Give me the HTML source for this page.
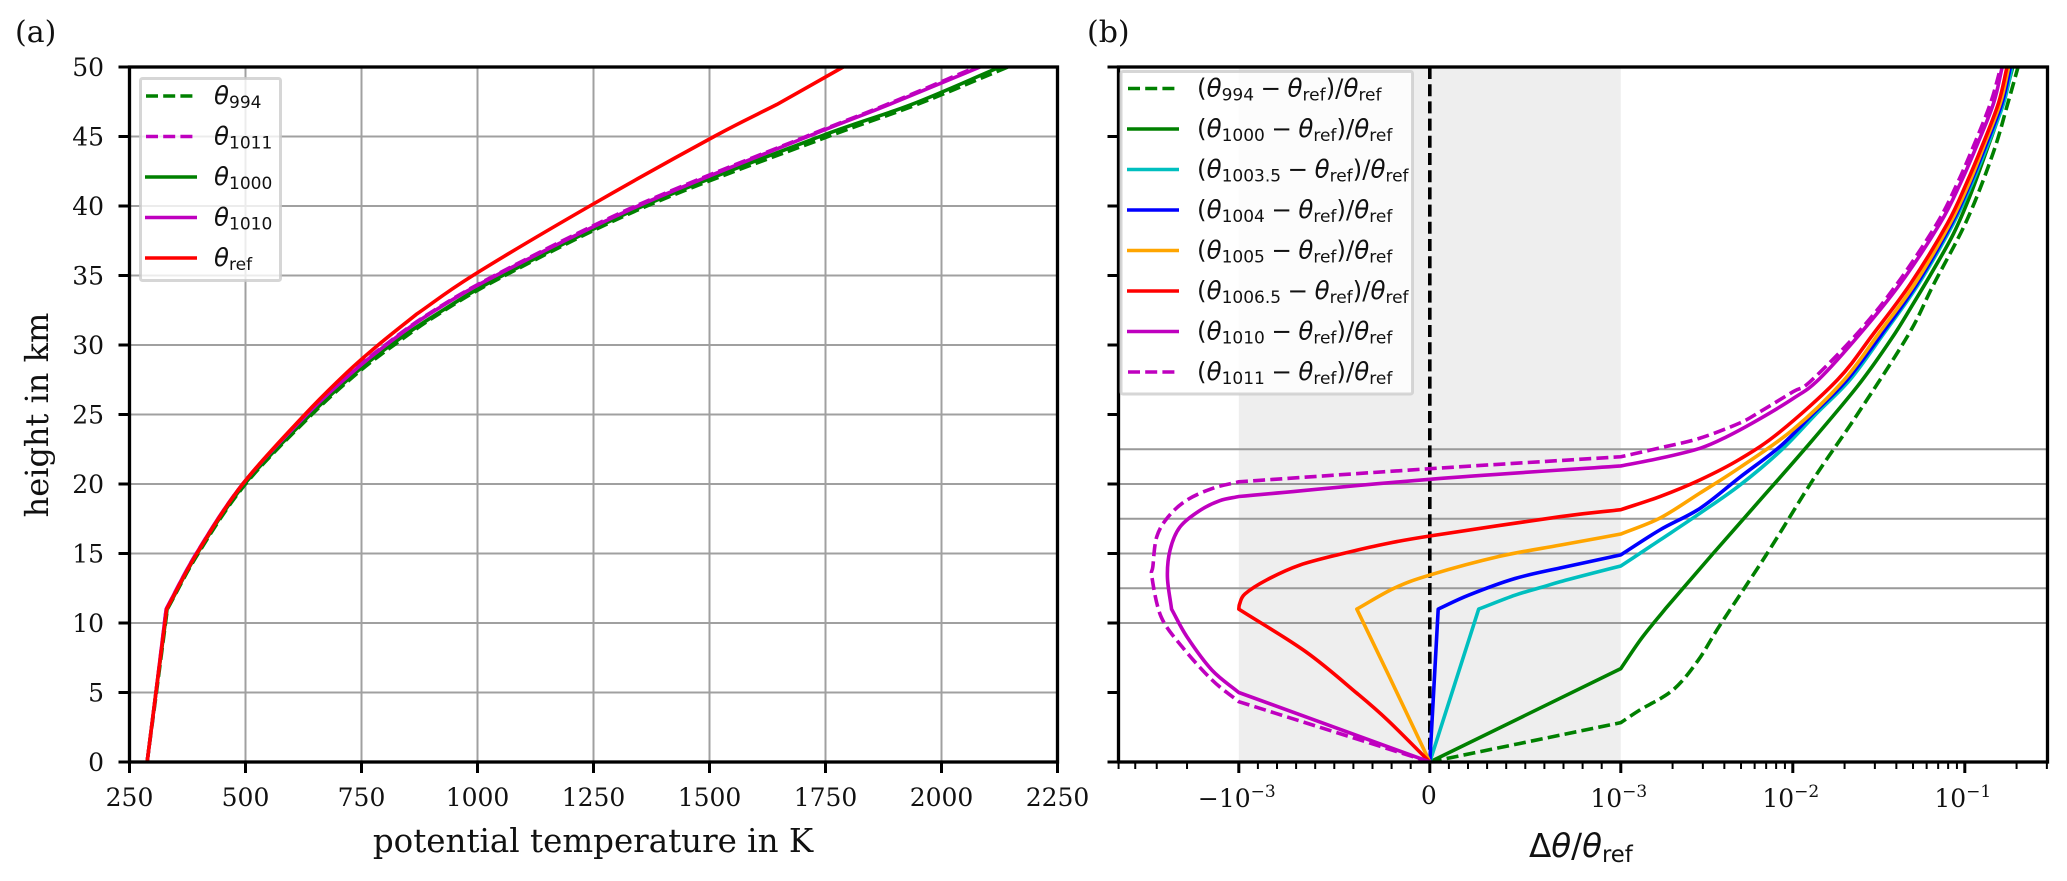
<!DOCTYPE html>
<html lang="en">
<head>
<meta charset="utf-8">
<title>Potential temperature profiles</title>
<style>
html,body{margin:0;padding:0;background:#fff;}
svg{display:block;}
.serif{font-family:"DejaVu Serif","Liberation Serif",serif;fill:#111;}
.math{font-family:"DejaVu Sans","Liberation Sans",sans-serif;fill:#111;}
.th{font-style:italic;}
</style>
</head>
<body>
<svg id="fig" xmlns="http://www.w3.org/2000/svg" width="2067" height="881" viewBox="0 0 2067 881">
  <defs>
    <clipPath id="clip-a"><rect x="129.5" y="67" width="928" height="695"/></clipPath>
    <clipPath id="clip-b"><rect x="1118.5" y="67" width="929" height="695"/></clipPath>
  </defs>
  <rect x="0" y="0" width="2067" height="881" fill="#fff"/>
  <text class="serif" x="15" y="42" font-size="30">(a)</text>
  <text class="serif" x="1087" y="42" font-size="30">(b)</text>

  <g id="axes-a"></g>
  <g id="axes-b"></g>

  <text class="serif" x="593" y="852" font-size="32.5" text-anchor="middle">potential temperature in K</text>
  <text class="serif" transform="translate(48,415) rotate(-90)" font-size="32" text-anchor="middle">height in km</text>
  <text class="math" x="1529" y="857" font-size="32.5">Δ<tspan class="th">θ</tspan>/<tspan class="th">θ</tspan><tspan font-size="22.7" dy="5">ref</tspan></text>

  <!-- legend a -->
  <g>
    <rect x="140.5" y="78.5" width="140" height="202" rx="2" fill="#fff" fill-opacity="0.8" stroke="#ccc" stroke-opacity="0.8" stroke-width="3"/>
    <line x1="146" x2="197" y1="96" y2="96" stroke="#008000" stroke-width="3.6" stroke-dasharray="12 5.2"/>
    <text class="math" x="214" y="104" font-size="24.5"><tspan class="th">θ</tspan><tspan font-size="17" dy="4">994</tspan></text>
    <line x1="146" x2="197" y1="136.5" y2="136.5" stroke="#bf00bf" stroke-width="3.6" stroke-dasharray="12 5.2"/>
    <text class="math" x="214" y="144.5" font-size="24.5"><tspan class="th">θ</tspan><tspan font-size="17" dy="4">1011</tspan></text>
    <line x1="145" x2="197" y1="177" y2="177" stroke="#008000" stroke-width="3.6"/>
    <text class="math" x="214" y="185" font-size="24.5"><tspan class="th">θ</tspan><tspan font-size="17" dy="4">1000</tspan></text>
    <line x1="145" x2="197" y1="217.5" y2="217.5" stroke="#bf00bf" stroke-width="3.6"/>
    <text class="math" x="214" y="225.5" font-size="24.5"><tspan class="th">θ</tspan><tspan font-size="17" dy="4">1010</tspan></text>
    <line x1="145" x2="197" y1="258" y2="258" stroke="#ff0000" stroke-width="3.6"/>
    <text class="math" x="214" y="266" font-size="24.5"><tspan class="th">θ</tspan><tspan font-size="17" dy="4">ref</tspan></text>
  </g>

  <!-- legend b -->
  <g>
    <rect x="1121" y="71.5" width="291.5" height="322.5" rx="2" fill="#fff" fill-opacity="0.8" stroke="#ccc" stroke-opacity="0.8" stroke-width="3"/>
    <line x1="1128" x2="1179" y1="88.5" y2="88.5" stroke="#008000" stroke-width="3.6" stroke-dasharray="12 5.2"/>
    <text class="math" x="1197" y="96.5" font-size="24.5">(<tspan class="th">θ</tspan><tspan font-size="17" dy="4">994</tspan><tspan dy="-4" dx="6.5">−</tspan><tspan class="th" dx="6.5">θ</tspan><tspan font-size="17" dy="4">ref</tspan><tspan dy="-4">)/</tspan><tspan class="th">θ</tspan><tspan font-size="17" dy="4">ref</tspan></text>
    <line x1="1127" x2="1179" y1="129" y2="129" stroke="#008000" stroke-width="3.6"/>
    <text class="math" x="1197" y="137" font-size="24.5">(<tspan class="th">θ</tspan><tspan font-size="17" dy="4">1000</tspan><tspan dy="-4" dx="6.5">−</tspan><tspan class="th" dx="6.5">θ</tspan><tspan font-size="17" dy="4">ref</tspan><tspan dy="-4">)/</tspan><tspan class="th">θ</tspan><tspan font-size="17" dy="4">ref</tspan></text>
    <line x1="1127" x2="1179" y1="169.5" y2="169.5" stroke="#00bfbf" stroke-width="3.6"/>
    <text class="math" x="1197" y="177.5" font-size="24.5">(<tspan class="th">θ</tspan><tspan font-size="17" dy="4">1003.5</tspan><tspan dy="-4" dx="6.5">−</tspan><tspan class="th" dx="6.5">θ</tspan><tspan font-size="17" dy="4">ref</tspan><tspan dy="-4">)/</tspan><tspan class="th">θ</tspan><tspan font-size="17" dy="4">ref</tspan></text>
    <line x1="1127" x2="1179" y1="210" y2="210" stroke="#0000ff" stroke-width="3.6"/>
    <text class="math" x="1197" y="218" font-size="24.5">(<tspan class="th">θ</tspan><tspan font-size="17" dy="4">1004</tspan><tspan dy="-4" dx="6.5">−</tspan><tspan class="th" dx="6.5">θ</tspan><tspan font-size="17" dy="4">ref</tspan><tspan dy="-4">)/</tspan><tspan class="th">θ</tspan><tspan font-size="17" dy="4">ref</tspan></text>
    <line x1="1127" x2="1179" y1="250.5" y2="250.5" stroke="#ffa500" stroke-width="3.6"/>
    <text class="math" x="1197" y="258.5" font-size="24.5">(<tspan class="th">θ</tspan><tspan font-size="17" dy="4">1005</tspan><tspan dy="-4" dx="6.5">−</tspan><tspan class="th" dx="6.5">θ</tspan><tspan font-size="17" dy="4">ref</tspan><tspan dy="-4">)/</tspan><tspan class="th">θ</tspan><tspan font-size="17" dy="4">ref</tspan></text>
    <line x1="1127" x2="1179" y1="291" y2="291" stroke="#ff0000" stroke-width="3.6"/>
    <text class="math" x="1197" y="299" font-size="24.5">(<tspan class="th">θ</tspan><tspan font-size="17" dy="4">1006.5</tspan><tspan dy="-4" dx="6.5">−</tspan><tspan class="th" dx="6.5">θ</tspan><tspan font-size="17" dy="4">ref</tspan><tspan dy="-4">)/</tspan><tspan class="th">θ</tspan><tspan font-size="17" dy="4">ref</tspan></text>
    <line x1="1127" x2="1179" y1="331.5" y2="331.5" stroke="#bf00bf" stroke-width="3.6"/>
    <text class="math" x="1197" y="339.5" font-size="24.5">(<tspan class="th">θ</tspan><tspan font-size="17" dy="4">1010</tspan><tspan dy="-4" dx="6.5">−</tspan><tspan class="th" dx="6.5">θ</tspan><tspan font-size="17" dy="4">ref</tspan><tspan dy="-4">)/</tspan><tspan class="th">θ</tspan><tspan font-size="17" dy="4">ref</tspan></text>
    <line x1="1128" x2="1179" y1="372" y2="372" stroke="#bf00bf" stroke-width="3.6" stroke-dasharray="12 5.2"/>
    <text class="math" x="1197" y="380" font-size="24.5">(<tspan class="th">θ</tspan><tspan font-size="17" dy="4">1011</tspan><tspan dy="-4" dx="6.5">−</tspan><tspan class="th" dx="6.5">θ</tspan><tspan font-size="17" dy="4">ref</tspan><tspan dy="-4">)/</tspan><tspan class="th">θ</tspan><tspan font-size="17" dy="4">ref</tspan></text>
  </g>
</svg>

<script>
/* ---------- shared axis data ---------- */
const heightTicks = [0, 5, 10, 15, 20, 25, 30, 35, 40, 45, 50];
const tempTicks = [250, 500, 750, 1000, 1250, 1500, 1750, 2000, 2250];
const referenceHeights = [10, 12.5, 15, 17.5, 20, 22.5];
const shadeBand = [-1e-3, 1e-3];

/* ---------- panel (a): potential temperature in K ---------- */
const profileHeights = [0, 5, 11, 15, 20, 25, 28, 30, 32.2, 35, 40, 45, 47.3, 50];
const theta994  = [288, 308, 331.5, 398, 500, 643, 742, 820, 915, 1059, 1365, 1756, 1947, 2143];
const theta1011 = [288, 307, 329, 394, 494, 631, 727, 801, 893, 1037, 1341, 1708, 1882, 2075];
const theta1000 = [288, 307, 331, 396, 498, 640, 737, 813, 911, 1054, 1357, 1738, 1935, 2126];
const theta1010 = [288, 307, 329, 394, 494, 632, 729, 803, 895, 1040, 1346, 1712, 1887, 2083];
const thetaRef  = [288, 307, 330, 395, 494, 628, 718, 786, 868, 990, 1242, 1510, 1645, 1788];
const refKinkHeights = [11, 32.2, 47.3];
const profileKinkHeights = [11];

/* ---------- panel (b): relative differences ---------- */
const h994 = [0, 2.83, 3.74, 5.18, 7.3, 9.86, 15, 20.3, 25, 30.7, 34.3, 39, 43.8, 47.4, 50];
const d994 = [0, 1e-3, 1.29e-3, 2.01e-3, 2.81e-3, 3.78e-3, 7.09e-3, 1.31e-2, 2.37e-2, 4.68e-2, 6.55e-2, 0.103, 0.146, 0.178, 0.204];

const h1000 = [0, 6.72, 8.9, 11, 15, 18.6, 22.7, 27.1, 30.5, 33, 35.4, 38, 40.7, 44, 46.7, 48.8, 50];
const d1000 = [0, 1e-3, 1.32e-3, 1.81e-3, 3.44e-3, 6.2e-3, 1.21e-2, 2.4e-2, 3.77e-2, 5.03e-2, 6.56e-2, 8.59e-2, 0.107, 0.134, 0.16, 0.179, 0.19];

const h1003 = [0, 11, 12, 12.6, 12.97, 13.6, 14.1, 15.97, 17.9, 19.93, 22.47, 25.1, 27.5, 30.8, 34.4, 38.75, 41.6, 44.3, 47.4, 50];
const d1003 = [0, 2.56e-4, 4.46e-4, 5.93e-4, 6.82e-4, 8.56e-4, 1e-3, 1.69e-3, 2.89e-3, 4.94e-3, 8.63e-3, 1.38e-2, 2.15e-2, 3.37e-2, 5.39e-2, 8.58e-2, 0.1099, 0.135, 0.1683, 0.188];

const h1004 = [0, 11, 12, 13.2, 13.96, 14.9, 16.7, 18.25, 20.5, 22.7, 25.08, 27.5, 30.8, 34.4, 38.75, 41.6, 44.3, 47.4, 50];
const d1004 = [0, 4.4e-5, 2.03e-4, 4.46e-4, 6.82e-4, 1e-3, 1.69e-3, 2.89e-3, 4.94e-3, 8.43e-3, 1.318e-2, 2.07e-2, 3.29e-2, 5.27e-2, 8.39e-2, 0.1074, 0.1319, 0.1645, 0.184];

const h1005 = [0, 6.14, 11, 12.5, 13.45, 14.8, 15.6, 16.4, 17.55, 19.35, 21.2, 23.9, 27.4, 30.8, 34.4, 38.75, 41.6, 44.3, 47.4, 50];
const d1005 = [0, -2.12e-4, -3.82e-4, -1.87e-4, 0, 3.67e-4, 6.82e-4, 1e-3, 1.69e-3, 2.89e-3, 4.94e-3, 1e-2, 1.96e-2, 3.15e-2, 5.12e-2, 8.21e-2, 0.1055, 0.129, 0.1608, 0.18];

const h1006 = [0, 3, 4.95, 7.94, 11, 11.4, 12.1, 13.1, 14.17, 15, 15.66, 16.26, 17.65, 18.15, 19.1, 20.3, 21.8, 23.76, 27.5, 30.8, 34.4, 38.75, 41.6, 44.3, 47.4, 50];
const d1006 = [0, -2.2e-4, -3.82e-4, -6.5e-4, -1e-3, -9.95e-4, -9.67e-4, -8.54e-4, -6.8e-4, -4.54e-4, -2.45e-4, 0, 6.82e-4, 1e-3, 1.69e-3, 2.89e-3, 4.94e-3, 8.43e-3, 1.82e-2, 2.94e-2, 4.83e-2, 7.93e-2, 0.102, 0.126, 0.157, 0.176];

const h1010 = [0, 5, 6.6, 9, 11, 13.3, 15.25, 16.9, 18.1, 18.8, 19.1, 20.34, 21.3, 21.85, 22.57, 23.4, 24.7, 26.16, 27.5, 30.8, 34.4, 38.75, 41.6, 44.3, 47.4, 50];
const d1010 = [0, -1e-3, -1.43e-3, -2e-3, -2.46e-3, -2.6e-3, -2.51e-3, -2.2e-3, -1.68e-3, -1.29e-3, -1e-3, 0, 1e-3, 1.69e-3, 2.89e-3, 4.13e-3, 6.45e-3, 1.007e-2, 1.41e-2, 2.46e-2, 4.21e-2, 7.18e-2, 0.094, 0.117, 0.147, 0.165];

const h1011 = [0, 4.34, 5.9, 8.3, 10.45, 13.3, 14.05, 16.2, 17.65, 18.85, 19.7, 20.16, 21.1, 21.96, 22.6, 23.3, 24.4, 25.2, 26.65, 27.36, 30.8, 34.4, 38.75, 41.6, 44.3, 47.4, 50];
const d1011 = [0, -1e-3, -1.43e-3, -2.14e-3, -2.83e-3, -3.2e-3, -3.16e-3, -3e-3, -2.57e-3, -2e-3, -1.41e-3, -1e-3, 0, 1e-3, 1.69e-3, 2.89e-3, 4.94e-3, 6.45e-3, 1.007e-2, 1.26e-2, 2.36e-2, 4.04e-2, 6.89e-2, 9.02e-2, 0.1123, 0.1411, 0.162];

/* x-axis ticks of panel (b) */
const symlogMajorExponents = [-3, -2, -1];
const linearMinorTicks = [-9e-4, -8e-4, -7e-4, -6e-4, -5e-4, -4e-4, -3e-4, -2e-4, -1e-4, 1e-4, 2e-4, 3e-4, 4e-4, 5e-4, 6e-4, 7e-4, 8e-4, 9e-4];
const negativeLogMinorTicks = [-2e-3, -3e-3, -4e-3, -5e-3];
const positiveLogMinorTicks = [2e-3, 3e-3, 4e-3, 5e-3, 6e-3, 7e-3, 8e-3, 9e-3, 2e-2, 3e-2, 4e-2, 5e-2, 6e-2, 7e-2, 8e-2, 9e-2, 0.2, 0.3];

/* ---------- scales ---------- */
const AX = {top: 67, bottom: 762, aL: 129.5, aR: 1057.5, bL: 1118.5, bR: 2047.5};
const NS = 'http://www.w3.org/2000/svg';
const LINE_W = 3.6;
const TICK_FONT = 25;
function yScale(h) { return AX.bottom - (AX.bottom - AX.top) * h / 50; }
function xTemp(t) { return AX.aL + (t - 250) * (AX.aR - AX.aL) / 2000; }
function xSym(v) {
  const zero = 1429.8, lin = 191, decade = 172, th = 1e-3;
  if (Math.abs(v) <= th) return zero + v / th * lin;
  const s = v > 0 ? 1 : -1;
  return zero + s * (lin + decade * Math.log10(Math.abs(v) / th));
}
function make(tag, attrs, parent) {
  const n = document.createElementNS(NS, tag);
  for (const k in attrs) n.setAttribute(k, attrs[k]);
  parent.appendChild(n);
  return n;
}
/* Smooth curve through every point; corners stay sharp where isCorner(i) is true. */
function smoothPath(xs, ys, isCorner) {
  const n = xs.length;
  let d = 'M' + xs[0].toFixed(2) + ' ' + ys[0].toFixed(2);
  for (let i = 0; i < n - 1; i++) {
    const startSharp = i === 0 || isCorner(i);
    const endSharp = i === n - 2 || isCorner(i + 1);
    const c1x = startSharp ? xs[i] + (xs[i + 1] - xs[i]) / 3 : xs[i] + (xs[i + 1] - xs[i - 1]) / 6;
    const c1y = startSharp ? ys[i] + (ys[i + 1] - ys[i]) / 3 : ys[i] + (ys[i + 1] - ys[i - 1]) / 6;
    const c2x = endSharp ? xs[i + 1] - (xs[i + 1] - xs[i]) / 3 : xs[i + 1] - (xs[i + 2] - xs[i]) / 6;
    const c2y = endSharp ? ys[i + 1] - (ys[i + 1] - ys[i]) / 3 : ys[i + 1] - (ys[i + 2] - ys[i]) / 6;
    d += ' C' + c1x.toFixed(2) + ' ' + c1y.toFixed(2) + ' ' + c2x.toFixed(2) + ' ' + c2y.toFixed(2) + ' ' + xs[i + 1].toFixed(2) + ' ' + ys[i + 1].toFixed(2);
  }
  return d;
}

const axesA = document.getElementById('axes-a');
const axesB = document.getElementById('axes-b');
const GRID = '#a0a0a0';

/* ---------- panel (a) grid ---------- */
tempTicks.forEach(t => {
  const g = make('line', {x1: xTemp(t), x2: xTemp(t), y1: AX.top, y2: AX.bottom, stroke: GRID, 'stroke-width': 2}, axesA);
  
  
});
heightTicks.forEach(h => {
  const g = make('line', {x1: AX.aL, x2: AX.aR, y1: yScale(h), y2: yScale(h), stroke: GRID, 'stroke-width': 2}, axesA);
  
  
});

/* ---------- panel (a) series ---------- */
const seriesA = [
  ['theta-994', theta994, '#008000', true, profileKinkHeights],
  ['theta-1011', theta1011, '#bf00bf', true, profileKinkHeights],
  ['theta-1000', theta1000, '#008000', false, profileKinkHeights],
  ['theta-1010', theta1010, '#bf00bf', false, profileKinkHeights],
  ['theta-ref', thetaRef, '#ff0000', false, refKinkHeights]
];
seriesA.forEach(s => {
  const corner = i => s[4].includes(profileHeights[i]);
  const p = make('path', {d: smoothPath(s[1].map(xTemp), profileHeights.map(yScale), corner), fill: 'none', stroke: s[2], 'stroke-width': LINE_W, 'stroke-linejoin': 'round', 'clip-path': 'url(#clip-a)'}, axesA);
  if (s[3]) p.setAttribute('stroke-dasharray', '12 5.2');
  
  
});

/* ---------- panel (a) frame and ticks ---------- */
const frameA = make('rect', {x: AX.aL, y: AX.top, width: AX.aR - AX.aL, height: AX.bottom - AX.top, fill: 'none', stroke: '#000', 'stroke-width': 3.3}, axesA);



heightTicks.forEach(h => {
  const m = make('line', {x1: AX.aL - 11, x2: AX.aL, y1: yScale(h), y2: yScale(h), stroke: '#000', 'stroke-width': 3}, axesA);
  
  
  const t = make('text', {x: 104, y: yScale(h) + 9, 'font-size': TICK_FONT, 'text-anchor': 'end', class: 'serif'}, axesA);
  t.textContent = String(h);
  
  
});
tempTicks.forEach(v => {
  const m = make('line', {x1: xTemp(v), x2: xTemp(v), y1: AX.bottom, y2: AX.bottom + 11, stroke: '#000', 'stroke-width': 3}, axesA);
  
  
  const t = make('text', {x: xTemp(v), y: 806, 'font-size': TICK_FONT, 'text-anchor': 'middle', class: 'serif'}, axesA);
  t.textContent = String(v);
  
  
});

/* ---------- panel (b) background ---------- */
const shade = make('rect', {x: xSym(shadeBand[0]), y: AX.top, width: xSym(shadeBand[1]) - xSym(shadeBand[0]), height: AX.bottom - AX.top, fill: '#eeeeee'}, axesB);



referenceHeights.forEach(h => {
  const g = make('line', {x1: AX.bL, x2: AX.bR, y1: yScale(h), y2: yScale(h), stroke: '#999', 'stroke-width': 2}, axesB);
  
  
});

const zeroLine = make('line', {x1: xSym(0), x2: xSym(0), y1: AX.top, y2: AX.bottom, stroke: '#000', 'stroke-width': LINE_W, 'stroke-dasharray': '12 5.2'}, axesB);



/* ---------- panel (b) series ---------- */
const seriesB = [
  ['delta-994', h994, d994, '#008000', true],
  ['delta-1000', h1000, d1000, '#008000', false],
  ['delta-1003-5', h1003, d1003, '#00bfbf', false],
  ['delta-1004', h1004, d1004, '#0000ff', false],
  ['delta-1005', h1005, d1005, '#ffa500', false],
  ['delta-1006-5', h1006, d1006, '#ff0000', false],
  ['delta-1010', h1010, d1010, '#bf00bf', false],
  ['delta-1011', h1011, d1011, '#bf00bf', true]
];
seriesB.forEach(s => {
  const corner = i => s[1][i] === 11 || Math.abs(s[2][i]) === 1e-3;
  const p = make('path', {d: smoothPath(s[2].map(xSym), s[1].map(yScale), corner), fill: 'none', stroke: s[3], 'stroke-width': LINE_W, 'stroke-linejoin': 'round', 'clip-path': 'url(#clip-b)'}, axesB);
  if (s[4]) p.setAttribute('stroke-dasharray', '12 5.2');
  
  
});

/* ---------- panel (b) frame and ticks ---------- */
const frameB = make('rect', {x: AX.bL, y: AX.top, width: AX.bR - AX.bL, height: AX.bottom - AX.top, fill: 'none', stroke: '#000', 'stroke-width': 3.3}, axesB);



heightTicks.forEach(h => {
  const m = make('line', {x1: AX.bL - 11, x2: AX.bL, y1: yScale(h), y2: yScale(h), stroke: '#000', 'stroke-width': 3}, axesB);
  
  
});

linearMinorTicks.concat(negativeLogMinorTicks, positiveLogMinorTicks).forEach(v => {
  const m = make('line', {x1: xSym(v), x2: xSym(v), y1: AX.bottom, y2: AX.bottom + 7, stroke: '#000', 'stroke-width': 2}, axesB);
  
  
});

function powerLabel(v, exponent, negative) {
  const cx = xSym(v);
  const m = make('line', {x1: cx, x2: cx, y1: AX.bottom, y2: AX.bottom + 11, stroke: '#000', 'stroke-width': 3}, axesB);
  
  
  const t = make('text', {x: cx - 2, y: 807, 'font-size': TICK_FONT, 'text-anchor': 'middle', class: 'serif'}, axesB);
  
  
  const base = make('tspan', {}, t);
  base.textContent = (negative ? '\u2212' : '') + '10';
  const sup = make('tspan', {'font-size': 17, dy: -10}, t);
  sup.textContent = '\u2212' + Math.abs(exponent);
}
symlogMajorExponents.forEach(e => powerLabel(Math.pow(10, e), e, false));
powerLabel(-1e-3, -3, true);

const zeroTick = make('line', {x1: xSym(0), x2: xSym(0), y1: AX.bottom, y2: AX.bottom + 11, stroke: '#000', 'stroke-width': 3}, axesB);


const zeroLabel = make('text', {x: xSym(0) - 1, y: 804, 'font-size': TICK_FONT, 'text-anchor': 'middle', class: 'serif'}, axesB);
zeroLabel.textContent = '0';


</script>
</body>
</html>
